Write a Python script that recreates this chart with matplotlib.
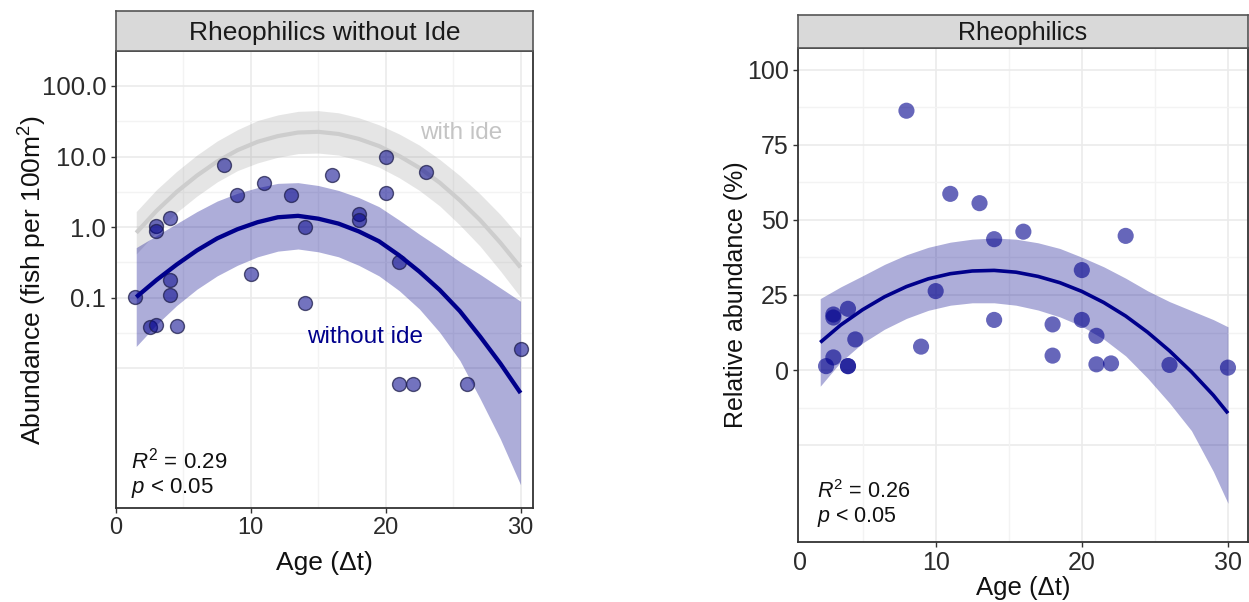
import matplotlib
matplotlib.use('Agg')
import matplotlib.pyplot as plt
import matplotlib.transforms as mtransforms
from matplotlib.ticker import FixedLocator, NullFormatter

plt.rcParams['font.family'] = ['Liberation Sans', 'DejaVu Sans']
plt.rcParams['mathtext.fontset'] = 'custom'
plt.rcParams['mathtext.rm'] = 'Liberation Sans'
plt.rcParams['mathtext.it'] = 'Liberation Sans:italic'
plt.rcParams['mathtext.bf'] = 'Liberation Sans:bold'

# ---------------- data: left panel (log scale) ----------------
left_age = [1.4, 2.5, 3, 3, 3, 4, 4, 4, 4.5, 8, 9, 10, 11, 13, 14, 14, 16, 18, 18,
            20, 20, 21, 21, 22, 23, 26, 30]
left_abund = [0.103, 0.038, 0.041, 1.04, 0.89, 1.36, 0.18, 0.109, 0.040, 7.6, 2.9,
              0.215, 4.2, 2.9, 1.01, 0.085, 5.5, 1.53, 1.26, 10.0, 3.0, 0.32, 0.006,
              0.006, 6.1, 0.006, 0.0186]

fit_age = [1.5, 3, 4.5, 6, 7.5, 9, 10.5, 12, 13.5, 15, 16.5, 18, 19.5, 21, 22.5,
           24, 25.5, 27, 28.5, 30]
without_fit = [0.102, 0.178, 0.295, 0.468, 0.692, 0.933, 1.175, 1.38, 1.445, 1.318,
               1.122, 0.871, 0.631, 0.398, 0.234, 0.129, 0.0646, 0.0282, 0.0117, 0.00447]
without_hi = [0.513, 0.759, 1.122, 1.66, 2.34, 3.02, 3.63, 4.17, 4.27, 3.89, 3.31,
              2.63, 1.95, 1.26, 0.794, 0.513, 0.324, 0.214, 0.138, 0.0891]
without_lo = [0.0204, 0.0417, 0.0776, 0.132, 0.204, 0.288, 0.380, 0.457, 0.490, 0.447,
              0.380, 0.288, 0.204, 0.126, 0.0692, 0.0324, 0.0129, 0.00372, 0.001, 0.000224]
with_fit = [0.832, 1.70, 3.16, 5.37, 8.51, 12.3, 16.2, 19.5, 21.9, 22.4, 20.9, 17.8,
            14.1, 10.2, 6.92, 4.27, 2.40, 1.26, 0.603, 0.269]
with_hi = [1.66, 3.39, 6.17, 10.5, 16.6, 24.0, 32.4, 38.9, 43.7, 44.7, 41.7, 35.5,
           28.2, 20.9, 14.5, 9.12, 5.37, 2.95, 1.51, 0.708]
with_lo = [0.417, 0.851, 1.62, 2.75, 4.37, 6.31, 8.13, 9.77, 11.0, 11.2, 10.5, 8.91,
           7.08, 5.01, 3.31, 2.00, 1.07, 0.537, 0.240, 0.102]

left_yticks = [0.1, 1, 10, 100]
left_yticklabels = ['0.1', '1.0', '10.0', '100.0']

# ---------------- data: right panel ----------------
right_age = [2.5, 3, 3, 3, 4, 4, 4, 4.5, 8, 9, 10, 11, 13, 14, 14, 16, 18, 18, 20, 20,
             21, 21, 22, 23, 26, 30]
right_rel = [1.3, 18.5, 17.5, 4.2, 20.4, 1.3, 1.3, 10.2, 86.4, 7.8, 26.3, 58.7, 55.6,
             43.6, 16.7, 46.1, 15.2, 4.8, 33.3, 16.7, 11.4, 1.9, 2.2, 44.7, 1.7, 0.8]

rfit_age = [2.1, 3.5, 5, 6.5, 8, 9.5, 11, 12.5, 14, 15.5, 17, 18.5, 20, 21.5, 23, 24.5,
            26, 27.5, 29, 30]
rfit = [9.2, 15.0, 20.1, 24.4, 27.8, 30.4, 32.1, 33.0, 33.2, 32.6, 31.2, 29.1, 26.2,
        22.5, 18.0, 12.6, 6.4, -0.6, -8.4, -14.4]
rfit_hi = [23.8, 27.7, 31.4, 35.2, 38.4, 40.9, 42.6, 43.6, 44.0, 43.6, 42.4, 40.5, 37.6,
           34.4, 30.6, 26.4, 22.8, 19.8, 16.8, 14.4]
rfit_lo = [-5.4, 2.7, 9.0, 13.6, 17.2, 19.9, 21.6, 22.4, 22.4, 21.6, 20.0, 17.7, 14.6,
           10.3, 4.7, -2.7, -11.0, -20.2, -33.8, -44.4]

right_yticks = [0, 25, 50, 75, 100]

# ---------------- styling ----------------
NAVY = '#00008b'
GRID_MAJ = '#ebebeb'
GRID_MIN = '#f3f3f3'
DARK = '#333333'

W, H = 1249, 602
fig = plt.figure(figsize=(W / 100, H / 100), dpi=100)


def fr(l, t, r, b):
    return [l / W, 1 - b / H, (r - l) / W, (b - t) / H]


axL = fig.add_axes(fr(116, 50.7, 532.7, 507.7))
stripL = fig.add_axes(fr(116, 11, 532.7, 50.7))
axR = fig.add_axes(fr(798.3, 48.3, 1247.7, 541.7))
stripR = fig.add_axes(fr(798.3, 15, 1247.7, 48.3))


def style_strip(s, title, size):
    s.set_facecolor('#d9d9d9')
    s.set_xticks([])
    s.set_yticks([])
    for sp in s.spines.values():
        sp.set_color('#555555')
        sp.set_linewidth(1.2)
    s.text(0.5, 0.45, title, ha='center', va='center', fontsize=size,
           color='#1a1a1a', transform=s.transAxes)


def style_axes(ax, lsize):
    ax.set_facecolor('white')
    for sp in ax.spines.values():
        sp.set_color(DARK)
        sp.set_linewidth(1.3)
    ax.grid(which='major', color=GRID_MAJ, lw=1.2)
    ax.grid(which='minor', color=GRID_MIN, lw=1.0)
    ax.set_axisbelow(True)
    ax.tick_params(which='major', length=3.5, width=1, color=DARK, labelsize=lsize,
                   labelcolor='#2b2b2b', pad=3.5)
    ax.tick_params(which='minor', length=0)


style_strip(stripL, 'Rheophilics without Ide', 19)
style_strip(stripR, 'Rheophilics', 18)

# ---------- left panel ----------
axL.set_yscale('log')
axL.set_xlim(0, 30.9)
axL.set_ylim(1.06e-4, 316)
style_axes(axL, 17)
axL.tick_params(axis='y', which='major', labelsize=18.5)
axL.set_xticks([0, 10, 20, 30])
axL.xaxis.set_minor_locator(FixedLocator([5, 15, 25]))
axL.set_yticks(left_yticks)
axL.set_yticklabels(left_yticklabels)
axL.yaxis.set_minor_locator(FixedLocator([10 ** -1.5, 10 ** -0.5, 10 ** 0.5, 10 ** 1.5]))
axL.yaxis.set_minor_formatter(NullFormatter())
axL.axhline(0.01, color=GRID_MAJ, lw=1.2, zorder=0.5)

axL.fill_between(fit_age, with_lo, with_hi, color='#808080', alpha=0.2, lw=0, zorder=1)
axL.plot(fit_age, with_fit, color='#cdcdcd', lw=3, zorder=1.5, solid_capstyle='butt')
axL.fill_between(fit_age, without_lo, without_hi, color=NAVY, alpha=0.32, lw=0, zorder=2)
axL.scatter(left_age, left_abund, s=100, facecolor=(0, 0, 0.55, 0.55),
            edgecolor=(0.12, 0.12, 0.3, 0.75), linewidth=1.0, zorder=3)
axL.plot(fit_age, without_fit, color=NAVY, lw=3.1, zorder=4, solid_capstyle='butt')

axL.text(25.6, 21.6, 'with ide', color='#c4c4c4', fontsize=17.5, ha='center', va='center')
axL.text(18.46, 0.0275, 'without ide', color=NAVY, fontsize=17.5, ha='center', va='center')
axL.text(0.037, 0.104, r'$R^2$ = 0.29', transform=axL.transAxes, fontsize=16,
         ha='left', va='center', color='#111111')
axL.text(0.037, 0.043, r'$p$ < 0.05', transform=axL.transAxes, fontsize=16,
         ha='left', va='center', color='#111111')

axL.set_xlabel('Age (\u0394t)', fontsize=19, color='#111111')
axL.xaxis.label.set_va('center')
axL.xaxis.set_label_coords(0.5, -0.121)
axL.set_ylabel('Abundance (fish per 100m$^2$)', fontsize=19, color='#111111')
axL.yaxis.label.set_va('center')
axL.yaxis.set_label_coords(-0.199, 0.498)

# ---------- right panel ----------
axR.set_xlim(0.6, 31.35)
axR.set_ylim(-57.2, 107.2)
style_axes(axR, 18)
axR.set_xticks([10, 20, 30])
axR.xaxis.set_minor_locator(FixedLocator([5, 15, 25]))
axR.set_yticks(right_yticks)
axR.yaxis.set_minor_locator(FixedLocator([-12.5, 12.5, 37.5, 62.5, 87.5]))
axR.axhline(-25, color=GRID_MAJ, lw=1.2, zorder=0.5)
tr = mtransforms.blended_transform_factory(axR.transData, axR.transAxes)
axR.text(0.75, -0.018, '0', transform=tr, ha='center', va='top', fontsize=18,
         color='#2b2b2b')

axR.fill_between(rfit_age, rfit_lo, rfit_hi, color=NAVY, alpha=0.32, lw=0, zorder=2)
axR.scatter(right_age, right_rel, s=135, facecolor=(0, 0, 0.55, 0.6),
            edgecolor='none', zorder=3)
axR.plot(rfit_age, rfit, color=NAVY, lw=2.6, zorder=4, solid_capstyle='butt')

axR.text(0.041, 0.101, r'$R^2$ = 0.26', transform=axR.transAxes, fontsize=15.5,
         ha='left', va='center', color='#111111')
axR.text(0.041, 0.050, r'$p$ < 0.05', transform=axR.transAxes, fontsize=15.5,
         ha='left', va='center', color='#111111')

axR.set_xlabel('Age (\u0394t)', fontsize=18.5, color='#111111')
axR.xaxis.label.set_va('center')
axR.xaxis.set_label_coords(0.5, -0.0944)
axR.set_ylabel('Relative abundance (%)', fontsize=18, color='#111111')
axR.yaxis.label.set_va('center')
axR.yaxis.set_label_coords(-0.139, 0.5)

fig.savefig('out.png', dpi=100, facecolor='white')
